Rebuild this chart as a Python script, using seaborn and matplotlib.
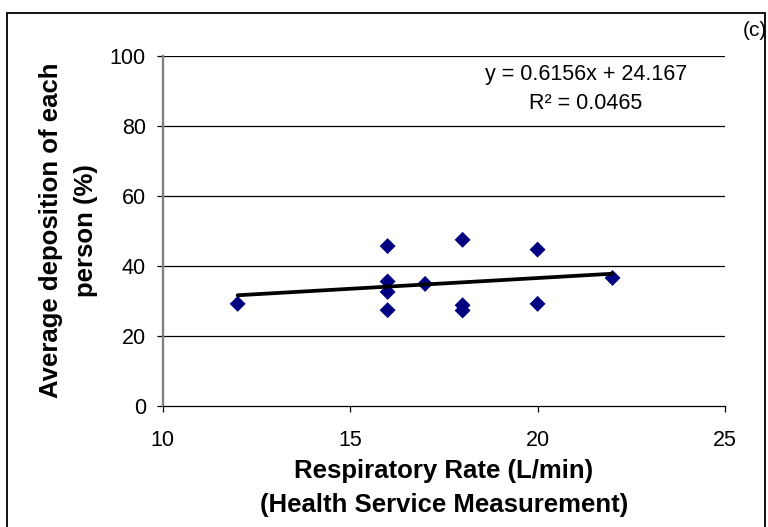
import matplotlib
matplotlib.use("Agg")
import matplotlib.pyplot as plt
from matplotlib.patches import Rectangle
import pandas as pd
import seaborn as sns

# Respiratory rate (L/min) and average deposition (%) per person
resp_rate = [12, 16, 16, 16, 16, 17, 18, 18, 18, 20, 20, 22]
deposition = [29.1, 45.6, 35.5, 32.5, 27.3, 34.8, 47.4, 28.7, 27.2, 44.6, 29.1, 36.5]

# Linear trend line reported on the chart
slope = 0.6156
intercept = 24.167
r_squared = 0.0465

x_ticks = [10, 15, 20, 25]
y_ticks = [0, 20, 40, 60, 80, 100]

sns.set_style("white")
plt.rcParams["font.family"] = ["Liberation Sans", "DejaVu Sans"]
plt.rcParams["text.color"] = "black"
plt.rcParams["axes.labelcolor"] = "black"
plt.rcParams["xtick.color"] = "black"
plt.rcParams["ytick.color"] = "black"

df = pd.DataFrame({"rate": resp_rate, "dep": deposition})
trend_x = [min(resp_rate), max(resp_rate)]
trend = pd.DataFrame({"rate": trend_x,
                      "dep": [slope * v + intercept for v in trend_x]})

W, H = 768, 527
fig = plt.figure(figsize=(W / 100, H / 100), dpi=100)
ax = fig.add_axes([162.7 / W, 1 - 405.7 / H,
                   (725 - 162.7) / W, (405.7 - 55.7) / H])

for y in y_ticks[1:]:
    ax.axhline(y, color="black", lw=0.9, zorder=0)

sns.scatterplot(data=df, x="rate", y="dep", marker="D", s=66,
                color="#000080", edgecolor="none", ax=ax, zorder=3)
sns.lineplot(data=trend, x="rate", y="dep", color="black", lw=2.7,
             ax=ax, zorder=4)

ax.set_xlim(10, 25)
ax.set_ylim(0, 100)
ax.set_xticks(x_ticks)
ax.set_yticks(y_ticks)
ax.tick_params(axis="both", which="major", labelsize=15.5, length=4.2,
               width=0.9, color="black", direction="out",
               bottom=True, left=True)
ax.tick_params(axis="x", pad=13)
ax.tick_params(axis="y", pad=8)

for side in ("top", "right"):
    ax.spines[side].set_visible(False)
ax.spines["left"].set_color("#808080")
ax.spines["left"].set_linewidth(1.7)
ax.spines["bottom"].set_color("black")
ax.spines["bottom"].set_linewidth(0.9)

ax.set_xlabel("Respiratory Rate (L/min)\n(Health Service Measurement)",
              fontsize=18.5, fontweight="bold", linespacing=1.5,
              va="center")
ax.xaxis.set_label_coords(0.5, (405.7 - 488) / 350)
ax.set_ylabel("Average deposition of each\nperson (%)",
              fontsize=18.5, fontweight="bold", linespacing=1.6,
              va="center")
ax.yaxis.set_label_coords((68.5 - 162.7) / 562.3, 0.5)

ax.text((586 - 162.7) / 562.3, (405.7 - 89) / 350,
        f"y = {slope}x + {intercept}\nR² = {r_squared}",
        transform=ax.transAxes, ha="center", va="center", fontsize=15.5,
        linespacing=1.5)

fig.text(755 / W, 1 - 30 / H, "(c)", ha="center", va="center",
         fontsize=15)

fig.patches.append(Rectangle((6.5 / W, -0.01), (764.5 - 6.5) / W,
                             1.01 - 12.5 / H,
                             transform=fig.transFigure, fill=False,
                             edgecolor="black", lw=1.3))

fig.savefig("out.png", dpi=100)
